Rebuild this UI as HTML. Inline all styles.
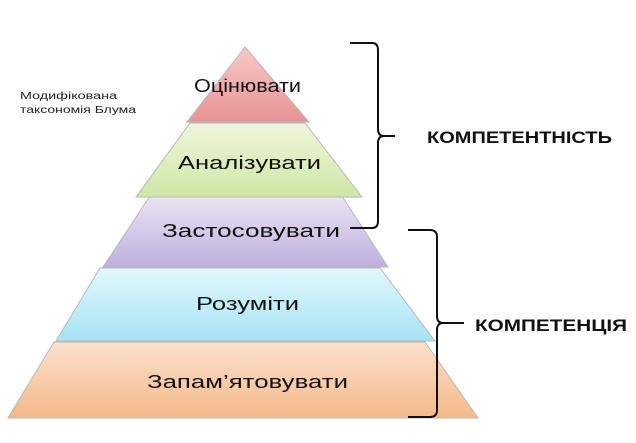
<!DOCTYPE html>
<html><head><meta charset="utf-8"><style>
body{margin:0;background:#fff;width:636px;height:438px;overflow:hidden}
text{font-family:"Liberation Sans","DejaVu Sans",sans-serif}
</style></head><body>
<svg width="636" height="438" xmlns="http://www.w3.org/2000/svg">
<defs>
<linearGradient id="r" x1="0" y1="0" x2="0" y2="1"><stop offset="0" stop-color="#f7c9c9"/><stop offset="1" stop-color="#e89393"/></linearGradient>
<linearGradient id="g" x1="0" y1="0" x2="0" y2="1"><stop offset="0" stop-color="#eef6dc"/><stop offset="1" stop-color="#cfe7a6"/></linearGradient>
<linearGradient id="p" x1="0" y1="0" x2="0" y2="1"><stop offset="0" stop-color="#ece6f6"/><stop offset="1" stop-color="#bfb0dc"/></linearGradient>
<linearGradient id="b" x1="0" y1="0" x2="0" y2="1"><stop offset="0" stop-color="#e2f8fd"/><stop offset="1" stop-color="#a6e3f3"/></linearGradient>
<linearGradient id="o" x1="0" y1="0" x2="0" y2="1"><stop offset="0" stop-color="#fbe1cd"/><stop offset="1" stop-color="#f4b98a"/></linearGradient>
</defs>
<g stroke="#b8b8b8" stroke-width="1">
<polygon points="54,342 425,342 478,418 8,418" fill="url(#o)"/>
<polygon points="100,268 380,268 435,341 56,341" fill="url(#b)"/>
<polygon points="152,193 340,193 388,267 103,267" fill="url(#p)"/>
<polygon points="190,123 305,123 362,197 136,197" fill="url(#g)"/>
<polygon points="245,47 309,122 187,122" fill="url(#r)"/>
</g>
<g font-size="18" fill="#111" lengthAdjust="spacingAndGlyphs">
<text x="194" y="92" textLength="107" lengthAdjust="spacingAndGlyphs">Оцінювати</text>
<text x="178" y="169" textLength="143" lengthAdjust="spacingAndGlyphs">Аналізувати</text>
<text x="162" y="237" textLength="178" lengthAdjust="spacingAndGlyphs">Застосовувати</text>
<text x="196" y="310" textLength="103" lengthAdjust="spacingAndGlyphs">Розуміти</text>
<text x="147" y="388" textLength="201" lengthAdjust="spacingAndGlyphs">Запам’ятовувати</text>
</g>
<g font-size="10" fill="#222">
<text x="20" y="99" textLength="97" lengthAdjust="spacingAndGlyphs">Модифікована</text>
<text x="20" y="113" textLength="116" lengthAdjust="spacingAndGlyphs">таксономія Блума</text>
</g>
<g fill="none" stroke="#111" stroke-width="2">
<path d="M350,43 H372 Q378,43 378,50 V129 Q378,136 384,136 H395 M384,136 Q378,136 378,143 V221 Q378,228 372,228 H350"/>
<path d="M408,230 H430 Q437,230 437,237 V316 Q437,323 443,323 H464 M443,323 Q437,323 437,330 V410 Q437,417 430,417 H408"/>
</g>
<g font-size="17" font-weight="bold" fill="#111">
<text x="427" y="143" textLength="185" lengthAdjust="spacingAndGlyphs">КОМПЕТЕНТНІСТЬ</text>
<text x="475" y="331" textLength="152" lengthAdjust="spacingAndGlyphs">КОМПЕТЕНЦІЯ</text>
</g>
</svg>
</body></html>
